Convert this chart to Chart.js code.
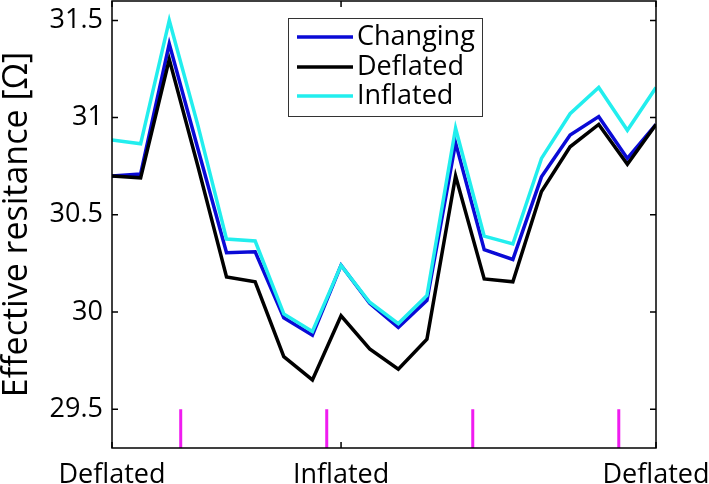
<!DOCTYPE html>
<html>
<head>
<meta charset="utf-8">
<script src="https://cdn.jsdelivr.net/npm/chart.js@4.4.0/dist/chart.umd.min.js"></script>
<style>
  html, body { margin: 0; padding: 0; background: #fff; }
</style>
</head>
<body>
<canvas id="chart" width="709" height="484"></canvas>
<script>
// sample index along the sequence
var steps = [0, 1, 2, 3, 4, 5, 6, 7, 8, 9, 10, 11, 12, 13, 14, 15, 16, 17, 18, 19];

var changing = [30.70, 30.71, 31.38, 30.84, 30.305, 30.31, 29.97, 29.88, 30.24, 30.045,
                29.92, 30.06, 30.87, 30.32, 30.27, 30.695, 30.91, 31.005, 30.79, 30.965];
var deflated = [30.70, 30.69, 31.30, 30.75, 30.18, 30.155, 29.77, 29.65, 29.98, 29.81,
                29.705, 29.86, 30.70, 30.17, 30.155, 30.62, 30.85, 30.965, 30.76, 30.965];
var inflated = [30.885, 30.865, 31.50, 30.96, 30.375, 30.365, 29.99, 29.90, 30.24, 30.05,
                29.94, 30.085, 30.945, 30.39, 30.35, 30.79, 31.02, 31.155, 30.935, 31.155];

// state change markers (magenta)
var markX = [2.4, 7.5, 12.6, 17.7];
var markLow = 29.3;
var markHigh = 29.5;

var xTickVals = [0, 8, 19];
var xTickLabels = ['Deflated', 'Inflated', 'Deflated'];
var yTickVals = [29.5, 30, 30.5, 31, 31.5];
var yTickLabels = ['29.5', '30', '30.5', '31', '31.5'];

function pairs(vals) {
  return steps.map(function (s, i) { return { x: s, y: vals[i] }; });
}

var marks = [];
markX.forEach(function (m) {
  marks.push({ x: m, y: markLow });
  marks.push({ x: m, y: markHigh });
  marks.push({ x: m, y: null });
});

var FONT = '"Open Sans", "Noto Sans", sans-serif';

// box, inward ticks and boxed legend, MATLAB style
var frame = {
  id: 'frame',
  afterDraw: function (chart) {
    var ctx = chart.ctx, a = chart.chartArea;
    var xs = chart.scales.x, ys = chart.scales.y;
    ctx.save();
    ctx.strokeStyle = '#000';
    ctx.lineWidth = 1.5;
    ctx.strokeRect(a.left, a.top, a.right - a.left, a.bottom - a.top);
    ctx.beginPath();
    ys.ticks.forEach(function (t) {
      var py = ys.getPixelForValue(t.value);
      ctx.moveTo(a.left, py); ctx.lineTo(a.left + 6, py);
      ctx.moveTo(a.right, py); ctx.lineTo(a.right - 6, py);
    });
    xs.ticks.forEach(function (t) {
      var px = xs.getPixelForValue(t.value);
      ctx.moveTo(px, a.bottom); ctx.lineTo(px, a.bottom - 6);
      ctx.moveTo(px, a.top); ctx.lineTo(px, a.top + 6);
    });
    ctx.stroke();

    // legend
    var bx = a.left + 176, by = a.top + 17, bw = 194, bh = 98;
    ctx.fillStyle = '#fff';
    ctx.fillRect(bx, by, bw, bh);
    ctx.lineWidth = 1;
    ctx.strokeStyle = '#333';
    ctx.strokeRect(bx + 0.5, by + 0.5, bw, bh);
    ctx.font = '27px ' + FONT;
    ctx.textBaseline = 'middle';
    ctx.textAlign = 'left';
    var rows = [19, 49, 78];
    chart.data.datasets.filter(function (d) { return d.label; }).forEach(function (d, i) {
      var ry = by + rows[i];
      ctx.strokeStyle = d.borderColor;
      ctx.lineWidth = 3.5;
      ctx.beginPath();
      ctx.moveTo(bx + 9, ry); ctx.lineTo(bx + 65, ry);
      ctx.stroke();
      ctx.fillStyle = '#000';
      ctx.fillText(d.label, bx + 69, ry);
    });
    ctx.restore();
  }
};

new Chart(document.getElementById('chart'), {
  type: 'line',
  data: {
    datasets: [
      { label: 'Changing', data: pairs(changing), borderColor: '#0a0ad6', borderWidth: 3.5, pointRadius: 0, order: 2 },
      { label: 'Deflated', data: pairs(deflated), borderColor: '#000000', borderWidth: 3.5, pointRadius: 0, order: 1 },
      { label: 'Inflated', data: pairs(inflated), borderColor: '#22eeee', borderWidth: 3.5, pointRadius: 0, order: 0 },
      { label: '', data: marks, borderColor: '#f01cf0', borderWidth: 3, pointRadius: 0, spanGaps: false, order: 3 }
    ]
  },
  options: {
    responsive: false,
    animation: false,
    devicePixelRatio: 1,
    layout: { autoPadding: false, padding: { top: 1, right: 53, left: 0, bottom: 0 } },
    plugins: { legend: { display: false }, tooltip: { enabled: false } },
    elements: { line: { tension: 0 } },
    scales: {
      x: {
        type: 'linear', min: 0, max: 19,
        grid: { display: false, drawTicks: false }, border: { display: false },
        afterBuildTicks: function (s) { s.ticks = xTickVals.map(function (v) { return { value: v }; }); },
        afterFit: function (s) { s.height = 36; s.paddingLeft = 0; s.paddingRight = 0; },
        ticks: {
          autoSkip: false, maxRotation: 0, padding: 11, color: '#000',
          font: { family: FONT, size: 27 },
          callback: function (v, i) { return xTickLabels[i]; }
        }
      },
      y: {
        min: 29.3, max: 31.6,
        grid: { display: false, drawTicks: false }, border: { display: false },
        afterBuildTicks: function (s) { s.ticks = yTickVals.map(function (v) { return { value: v }; }); },
        afterFit: function (s) { s.width = 112; s.paddingTop = 0; s.paddingBottom = 0; },
        ticks: {
          padding: 9, color: '#000',
          font: { family: FONT, size: 27 },
          callback: function (v, i) { return yTickLabels[i]; }
        },
        title: {
          display: true, text: 'Effective resitance [Ω]', color: '#000',
          font: { family: FONT, size: 34, lineHeight: 1 },
          padding: { top: 0, bottom: 0 }
        }
      }
    }
  },
  plugins: [frame]
});
</script>
</body>
</html>
